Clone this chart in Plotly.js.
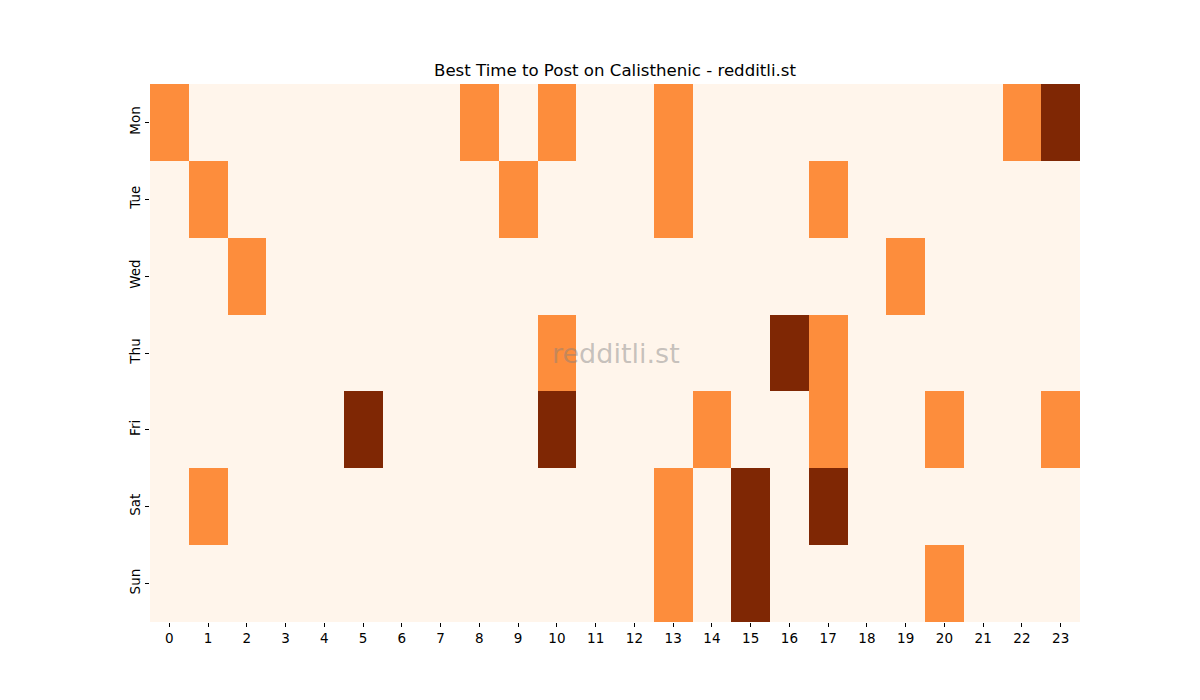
<!DOCTYPE html>
<html><head><meta charset="utf-8">
<script src="https://cdn.plot.ly/plotly-3.0.1.min.js"></script>
<style>body{margin:0;background:#fff}#c{width:1200px;height:700px}</style>
</head><body><div id="c"></div>
<script>
const hours = ["0","1","2","3","4","5","6","7","8","9","10","11","12","13","14","15","16","17","18","19","20","21","22","23"];
const days = ["Mon","Tue","Wed","Thu","Fri","Sat","Sun"];
const mon = [1,0,0,0,0,0,0,0,1,0,1,0,0,1,0,0,0,0,0,0,0,0,1,2];
const tue = [0,1,0,0,0,0,0,0,0,1,0,0,0,1,0,0,0,1,0,0,0,0,0,0];
const wed = [0,0,1,0,0,0,0,0,0,0,0,0,0,0,0,0,0,0,0,1,0,0,0,0];
const thu = [0,0,0,0,0,0,0,0,0,0,1,0,0,0,0,0,2,1,0,0,0,0,0,0];
const fri = [0,0,0,0,0,2,0,0,0,0,2,0,0,0,1,0,0,1,0,0,1,0,0,1];
const sat = [0,1,0,0,0,0,0,0,0,0,0,0,0,1,0,2,0,2,0,0,0,0,0,0];
const sun = [0,0,0,0,0,0,0,0,0,0,0,0,0,1,0,2,0,0,0,0,1,0,0,0];
const z = [mon,tue,wed,thu,fri,sat,sun];
const font = "DejaVu Sans, sans-serif";
Plotly.newPlot("c", [{
  type: "heatmap", x: hours, y: days, z: z, zmin: 0, zmax: 2,
  colorscale: [[0,"#fff5eb"],[0.5,"#fd8d3c"],[1,"#7f2704"]],
  showscale: false, xgap: 0, ygap: 0, hoverinfo: "skip"
}], {
  width: 1200, height: 700,
  margin: {l: 150, r: 120, t: 84, b: 78},
  paper_bgcolor: "#fff", plot_bgcolor: "#fff",
  font: {family: font, size: 13.5, color: "#000"},
  title: {text: "Best Time to Post on Calisthenic - redditli.st", xref: "paper", x: 0.5, xanchor: "center", y: 1 - 70/700, yanchor: "middle", font: {family: font, size: 16.6, color: "#000"}},
  xaxis: {type: "category", showgrid: false, zeroline: false, ticks: "outside", ticklen: 4, tickcolor: "#000", showline: false, tickfont: {family: font, size: 13.5}},
  yaxis: {type: "category", autorange: "reversed", showgrid: false, zeroline: false, ticks: "outside", ticklen: 4, tickcolor: "#000", showline: false, tickangle: -90, tickfont: {family: font, size: 13.5}},
  annotations: [{text: "redditli.st", xref: "paper", yref: "paper", x: 0.501, y: 0.5, showarrow: false, font: {family: font, size: 27, color: "rgba(128,128,128,0.45)"}}]
}, {staticPlot: true});
</script></body></html>
